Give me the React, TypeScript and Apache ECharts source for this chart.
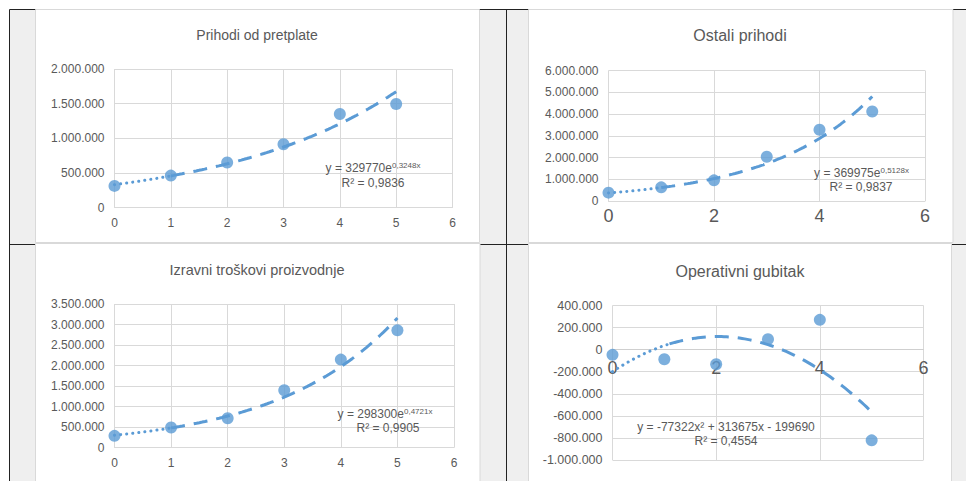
import React, { useEffect, useRef } from "react";
import * as echarts from "echarts";

// ---- data ----
const years = [0, 1, 2, 3, 4, 5];
const prihodiPretplate = [312000, 461000, 649000, 913000, 1351000, 1495000];
const ostaliPrihodi = [383000, 628000, 949000, 2036000, 3276000, 4117000];
const izravniTroskovi = [284000, 487000, 715000, 1397000, 2144000, 2858000];
const operativniGubitak = [-47000, -87000, -132000, 95000, 270000, -822000];

const titles = ["Prihodi od pretplate", "Ostali prihodi", "Izravni troškovi proizvodnje", "Operativni gubitak"];

// trendline coefficients as shown on the charts
const trend1 = { a: 329770, b: 0.3248 };
const trend2 = { a: 369975, b: 0.5128 };
const trend3 = { a: 298300, b: 0.4721 };
const trend4 = { c2: -77322, c1: 313675, c0: -199690 };

const eqTexts = [
  { main: "y = 329770e", sup: "0,3248x", r2: "R² = 0,9836" },
  { main: "y = 369975e", sup: "0,5128x", r2: "R² = 0,9837" },
  { main: "y = 298300e", sup: "0,4721x", r2: "R² = 0,9905" },
  { main: "y = -77322x² + 313675x - 199690", sup: "", r2: "R² = 0,4554" },
];

const FONT = "'Liberation Sans', Arial, sans-serif";
const BLUE = "#5b9bd5";
const GRID = "#d9d9d9";
const TXT = "#595959";

function fmt(v: number) {
  const s = Math.abs(Math.round(v)).toString().replace(/\B(?=(\d{3})+(?!\d))/g, ".");
  return (v < 0 ? "-" : "") + s;
}

function curve(f: (x: number) => number, x0: number, x1: number) {
  const pts: number[][] = [];
  const n = Math.max(2, Math.round((x1 - x0) / 0.05));
  for (let i = 0; i <= n; i++) {
    const x = x0 + ((x1 - x0) * i) / n;
    pts.push([x, f(x)]);
  }
  return pts;
}

const expF = (t: { a: number; b: number }) => (x: number) => t.a * Math.exp(t.b * x);
const polyF = (t: { c2: number; c1: number; c0: number }) => (x: number) => t.c2 * x * x + t.c1 * x + t.c0;

const App: React.FC = () => {
  const ref = useRef<HTMLDivElement>(null);
  useEffect(() => {
    if (!ref.current) return;
    const chart = echarts.init(ref.current, undefined, { renderer: "svg" });

    const grids = [
      { left: 114.5, top: 69, width: 338, height: 138.5 },
      { left: 608.5, top: 70.5, width: 316.5, height: 130.5 },
      { left: 114.5, top: 304, width: 339.5, height: 143.5 },
      { left: 612.5, top: 305.5, width: 311, height: 154.5 },
    ];
    const axCfg = [
      { xi: 1, xf: 12, xm: 9, ymin: 0, ymax: 2000000, yi: 500000 },
      { xi: 2, xf: 18, xm: 6, ymin: 0, ymax: 6000000, yi: 1000000 },
      { xi: 1, xf: 12, xm: 9, ymin: 0, ymax: 3500000, yi: 500000 },
      { xi: 2, xf: 18, xm: 9, ymin: -1000000, ymax: 400000, yi: 200000 },
    ];
    const seriesVals = [prihodiPretplate, ostaliPrihodi, izravniTroskovi, operativniGubitak];
    const fns = [expF(trend1), expF(trend2), expF(trend3), polyF(trend4)];
    const splitAt = [1, 1, 1, 1.1];

    const xAxis = axCfg.map((c, i) => ({
      gridIndex: i,
      type: "value",
      min: 0,
      max: 6,
      interval: c.xi,
      // place the horizontal axis where y = 0 crosses the plot
      offset: -(grids[i].height * (0 - c.ymin)) / (c.ymax - c.ymin),
      axisLine: { show: true, onZero: false, lineStyle: { color: i === 3 ? "#cfcfcf" : GRID, width: 1 } },
      axisTick: { show: false },
      splitLine: { show: true, lineStyle: { color: GRID, width: 1 } },
      axisLabel: { color: TXT, fontSize: c.xf, margin: c.xm, fontFamily: FONT },
    }));
    const yAxis = axCfg.map((c, i) => ({
      gridIndex: i,
      type: "value",
      min: c.ymin,
      max: c.ymax,
      interval: c.yi,
      axisLine: { show: false, onZero: false },
      axisTick: { show: false },
      splitLine: { show: true, lineStyle: { color: GRID, width: 1 } },
      axisLabel: { color: TXT, fontSize: i === 3 ? 12.5 : 12, margin: 10, fontFamily: FONT, formatter: fmt },
    }));

    const series: any[] = [];
    seriesVals.forEach((vals, i) => {
      series.push({
        type: "scatter",
        xAxisIndex: i,
        yAxisIndex: i,
        symbolSize: 12,
        itemStyle: { color: BLUE },
        data: years.map((x, k) => [x, vals[k]]),
        z: 2,
      });
      series.push({
        type: "line",
        xAxisIndex: i,
        yAxisIndex: i,
        showSymbol: false,
        symbol: "none",
        lineStyle: { color: BLUE, width: 3, type: [0.1, 6], cap: "round" },
        data: curve(fns[i], 0, splitAt[i]),
        z: 3,
      });
      series.push({
        type: "line",
        xAxisIndex: i,
        yAxisIndex: i,
        showSymbol: false,
        symbol: "none",
        lineStyle: { color: BLUE, width: 3, type: [14, 9], cap: "butt" },
        data: curve(fns[i], splitAt[i], 5),
        z: 3,
      });
    });

    const titlePos = [
      { x: 257, y: 35, fs: 14 },
      { x: 740, y: 35, fs: 16 },
      { x: 257, y: 269.5, fs: 14.5 },
      { x: 740, y: 271, fs: 16 },
    ];
    const eqPos = [
      { x: 373, y: 168, x2: 373, y2: 183 },
      { x: 861.5, y: 173, x2: 861, y2: 187 },
      { x: 385, y: 414, x2: 388, y2: 428 },
      { x: 726, y: 426.5, x2: 726, y2: 441 },
    ];

    const graphic: any[] = [
      { type: "rect", z: -100, shape: { x: 9.5, y: 9.5, width: 960, height: 475 }, style: { fill: "#efefef" } },
      { type: "line", z: -99, shape: { x1: 9.5, y1: 9.5, x2: 966, y2: 9.5 }, style: { stroke: "#222", lineWidth: 1 } },
      { type: "line", z: -99, shape: { x1: 9.5, y1: 9.5, x2: 9.5, y2: 481 }, style: { stroke: "#222", lineWidth: 1 } },
      { type: "line", z: -99, shape: { x1: 506.5, y1: 9.5, x2: 506.5, y2: 481 }, style: { stroke: "#222", lineWidth: 1 } },
      { type: "line", z: -99, shape: { x1: 9.5, y1: 244.5, x2: 966, y2: 244.5 }, style: { stroke: "#222", lineWidth: 1 } },
      { type: "rect", z: -98, shape: { x: 35.5, y: 9.5, width: 444, height: 233 }, style: { fill: "#fff", stroke: GRID, lineWidth: 1 } },
      { type: "rect", z: -98, shape: { x: 528.5, y: 9.5, width: 424.5, height: 233 }, style: { fill: "#fff", stroke: GRID, lineWidth: 1 } },
      { type: "rect", z: -98, shape: { x: 35.5, y: 243.5, width: 444.5, height: 250 }, style: { fill: "#fff", stroke: GRID, lineWidth: 1 } },
      { type: "rect", z: -98, shape: { x: 528.5, y: 243.5, width: 423, height: 250 }, style: { fill: "#fff", stroke: GRID, lineWidth: 1 } },
    ];
    titles.forEach((t, i) => {
      graphic.push({
        type: "text",
        z: 100,
        x: titlePos[i].x,
        y: titlePos[i].y,
        style: { text: t, fill: TXT, fontSize: titlePos[i].fs, fontFamily: FONT, align: "center", verticalAlign: "middle" },
      });
    });
    eqTexts.forEach((e, i) => {
      const p = eqPos[i];
      graphic.push({
        type: "text",
        z: 100,
        x: p.x,
        y: p.y,
        style: {
          text: e.sup ? `{m|${e.main}}{s|${e.sup}}` : `{m|${e.main}}`,
          rich: {
            m: { fontSize: 12, fill: TXT, fontFamily: FONT, lineHeight: 14 },
            s: { fontSize: 8, fill: TXT, fontFamily: FONT, lineHeight: 9, verticalAlign: "top" },
          },
          align: "center",
          verticalAlign: "middle",
        },
      });
      graphic.push({
        type: "text",
        z: 100,
        x: p.x2,
        y: p.y2,
        style: { text: e.r2, fill: TXT, fontSize: 12, fontFamily: FONT, align: "center", verticalAlign: "middle" },
      });
    });

    chart.setOption({
      animation: false,
      backgroundColor: "#ffffff",
      grid: grids,
      xAxis,
      yAxis,
      series,
      graphic,
    });
    return () => chart.dispose();
  }, []);
  return <div ref={ref} style={{ position: "fixed", left: 0, top: 0, width: 966, height: 481 }} />;
};

export default App;
